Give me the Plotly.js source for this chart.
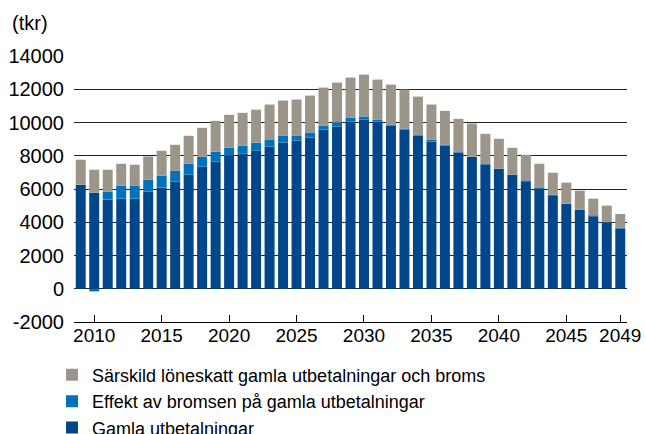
<!DOCTYPE html>
<html>
<head>
<meta charset="utf-8">
<script src="https://cdn.plot.ly/plotly-3.0.1.min.js"></script>
<style>
  html, body { margin: 0; padding: 0; background: #fff; }
  #chart { width: 646px; height: 434px; }
</style>
</head>
<body>
<div id="chart"></div>
<script>
// years 2009 - 2049
years = []
for (let y = 2009; y <= 2049; y++) { years.push(y) }

// Gamla utbetalningar (tkr)
gamla = [6260, 5780, 5360, 5420, 5420, 5840, 6080, 6440, 6860, 7340,
         7640, 8000, 8120, 8310, 8560, 8800, 8920, 9100, 9580, 9760,
         10060, 10180, 10060, 9820, 9580, 9220, 8860, 8620, 8200, 7940,
         7460, 7220, 6860, 6460, 6040, 5620, 5120, 4760, 4360, 3980,
         3620]

// Effekt av bromsen på gamla utbetalningar
effekt = [0, -160, 480, 780, 780, 720, 720, 660, 660, 600,
          600, 480, 480, 480, 420, 420, 300, 300, 240, 240,
          240, 180, 120, 60, 60, 60, 120, 60, 60, 0,
          80, 0, 0, 60, 60, 40, 0, 0, 60, 20,
          40]

// Särskild löneskatt gamla utbetalningar och broms
loneskatt = [1500, 1380, 1320, 1320, 1260, 1400, 1500, 1560, 1680, 1740,
             1860, 1980, 1980, 1980, 2100, 2100, 2160, 2220, 2280, 2400,
             2400, 2520, 2400, 2400, 2340, 2280, 2100, 2020, 1960, 2000,
             1780, 1800, 1620, 1540, 1420, 1320, 1260, 1140, 1000, 1000,
             840]

xTicks = [2010, 2015, 2020, 2025, 2030, 2035, 2040, 2045, 2049]
yTicks = [-2000, 0, 2000, 4000, 6000, 8000, 10000, 12000, 14000]
yTickText = ["-2000", "0", "2000", "4000", "6000", "8000", "10000", "12000", "14000"]

var data = [
  {type: "bar", x: years, y: gamla, name: "Gamla utbetalningar",
   marker: {color: "#00468b"}},
  {type: "bar", x: years, y: effekt, name: "Effekt av bromsen på gamla utbetalningar",
   marker: {color: "#0072bc"}},
  {type: "bar", x: years, y: loneskatt, name: "Särskild löneskatt gamla utbetalningar och broms",
   marker: {color: "#9c958a"}}
]

var plotTop = 56, plotBottom = 322.4
var plotH = plotBottom - plotTop

var layout = {
  width: 646,
  height: 434,
  barmode: "relative",
  bargap: 0.26,
  paper_bgcolor: "#fff",
  plot_bgcolor: "#fff",
  font: {family: "Liberation Sans, Arial, sans-serif", size: 19, color: "#000"},
  margin: {l: 74, r: 19, t: plotTop, b: 434 - plotBottom, autoexpand: false},
  title: {text: "(tkr)", x: 12/646, xanchor: "left", xref: "container",
          y: 1 - 23/434, yanchor: "middle", yref: "container",
          font: {size: 20, color: "#000"}},
  xaxis: {
    range: [2008.5, 2049.5],
    tickvals: xTicks,
    ticktext: xTicks.map(String),
    tickangle: 0,
    ticks: "inside", ticklen: 7, tickcolor: "#000",
    showline: true, linecolor: "#000", linewidth: 1,
    showgrid: false, zeroline: false,
    ticklabelstandoff: -4,
    tickfont: {size: 19}
  },
  yaxis: {
    range: [-2000, 14000],
    tickvals: yTicks,
    ticktext: yTickText,
    showgrid: true, gridcolor: "#222", gridwidth: 1,
    zeroline: false, showline: false,
    ticks: "", ticklabelstandoff: 9,
    tickfont: {size: 20}
  },
  showlegend: true,
  legend: {
    orientation: "v",
    traceorder: "reversed",
    x: -22/553, xanchor: "left",
    y: (plotBottom - 357)/plotH, yanchor: "top",
    font: {size: 18},
    tracegroupgap: 0,
    bgcolor: "rgba(0,0,0,0)"
  }
}

Plotly.newPlot("chart", data, layout, {displayModeBar: false, staticPlot: true})
</script>
</body>
</html>
